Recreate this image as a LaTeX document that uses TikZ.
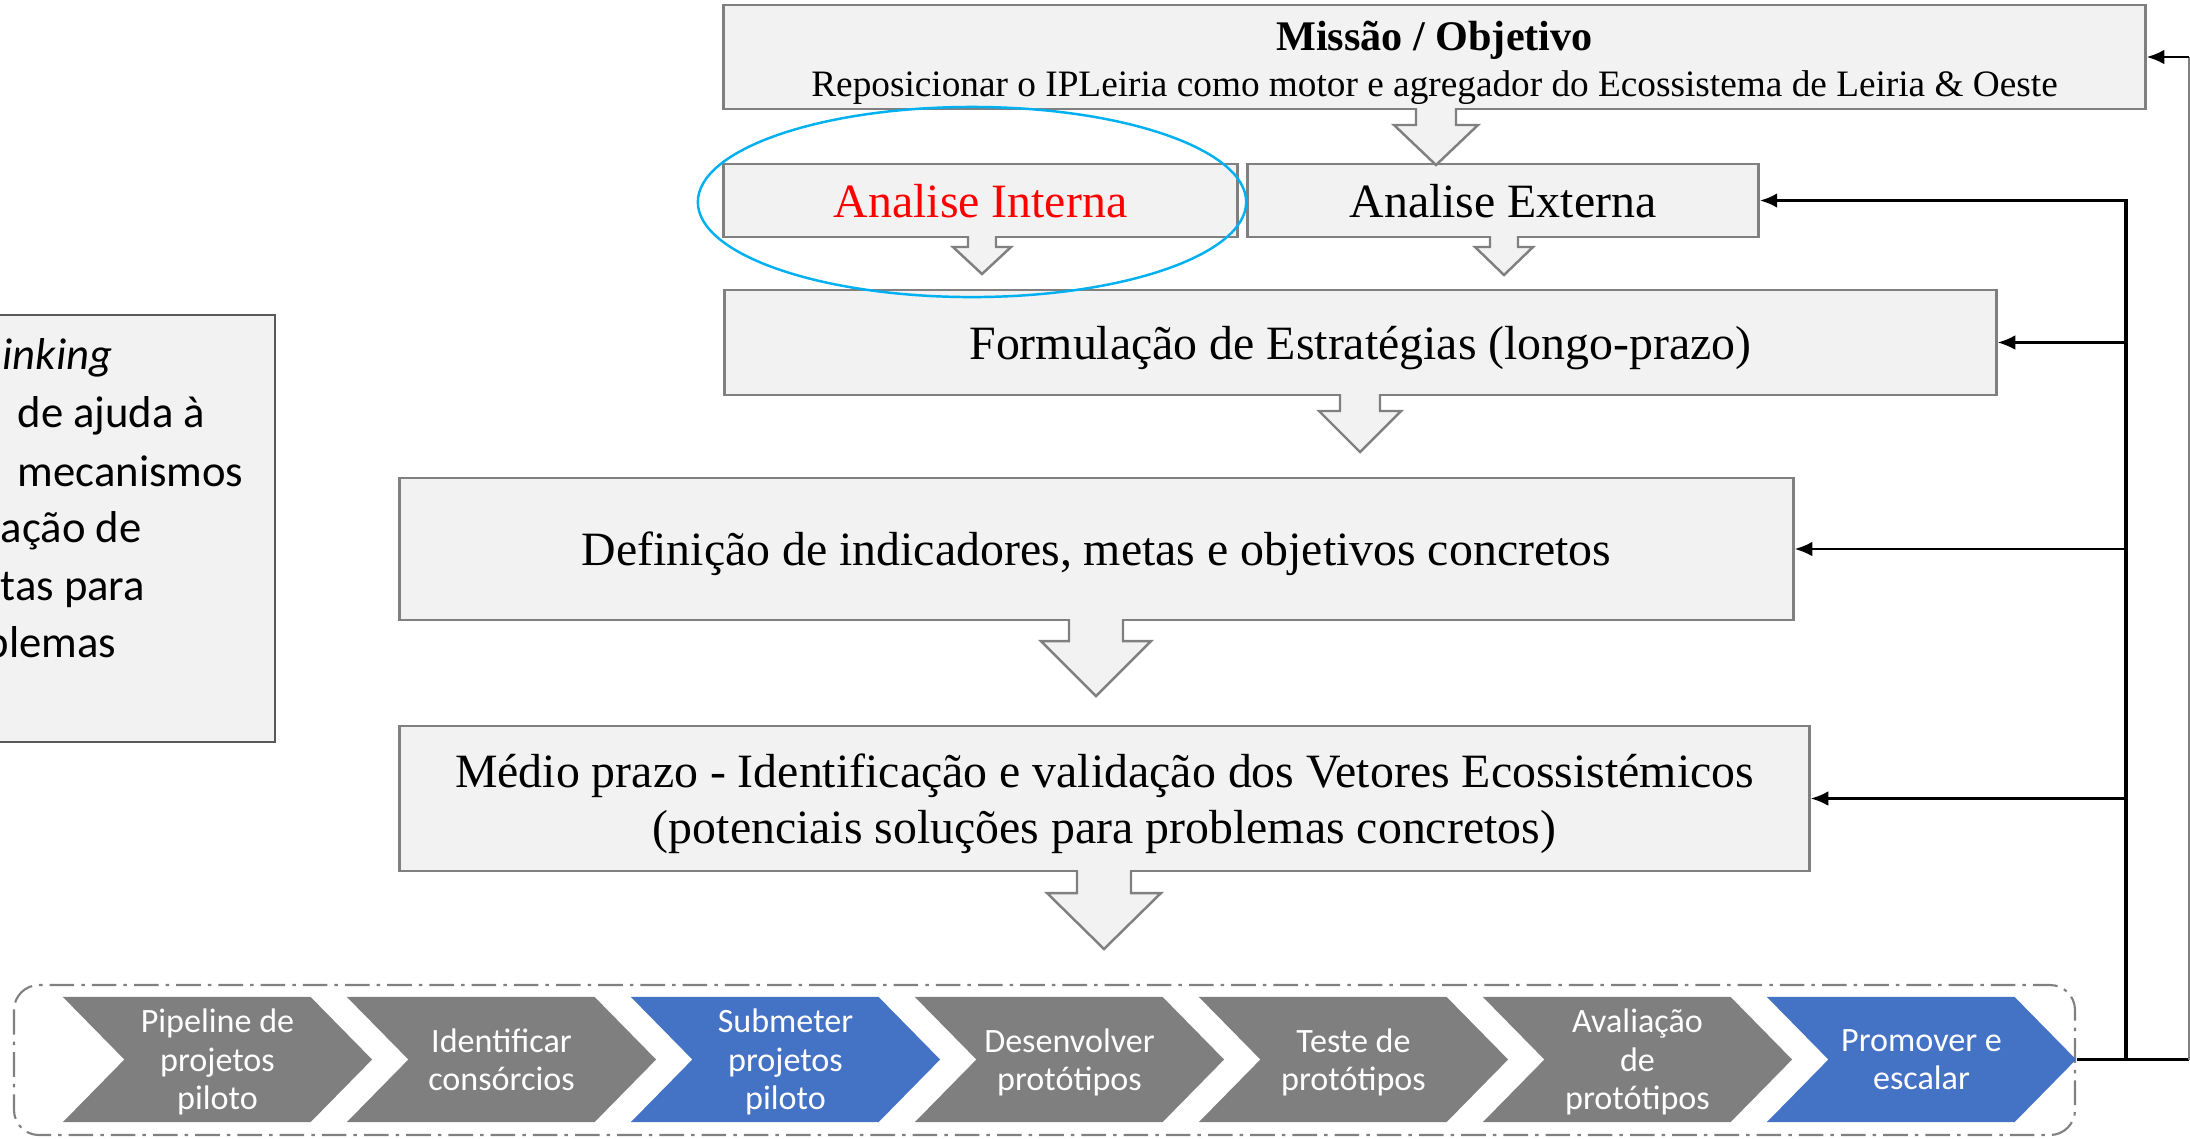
\documentclass[tikz,border=0pt]{standalone}
\usepackage{fontspec}
\setmainfont{Liberation Serif}
\newfontfamily\calibri{Carlito}
\usetikzlibrary{arrows.meta,shapes.symbols}
\definecolor{boxfill}{HTML}{F2F2F2}
\definecolor{boxline}{HTML}{808080}
\definecolor{chevgray}{HTML}{7F7F7F}
\definecolor{chevblue}{HTML}{4472C4}
\definecolor{ringblue}{HTML}{00B0F0}
\tikzset{
  box/.style={draw=boxline, fill=boxfill, line width=0.8pt, inner sep=0pt, align=center, text depth=0pt, font=\fontsize{13.6}{16}\selectfont},
  blockarrow/.style={draw=boxline, fill=boxfill, line width=0.7pt},
  chev/.style={signal, signal from=west, signal to=east, signal pointer angle=91, minimum width=3.09cm, minimum height=1.25cm, inner sep=0pt, text depth=0pt, text=white, align=center, font=\calibri\fontsize{9.7}{10.95}\selectfont},
  busline/.style={line width=1.1pt},
  fbarrow/.style={line width=0.6pt, -{Latex[length=5pt,width=4.2pt]}},
  sidetext/.style={anchor=base west, inner sep=0pt, font=\calibri\fontsize{12.7}{15}\selectfont},
  frame/.style={draw=boxline, line width=0.6pt, rounded corners=0.25cm, dash pattern=on 7pt off 2pt on 1pt off 2pt}
}
\begin{document}
\begin{tikzpicture}[x=0.01cm, y=-0.01cm]
\useasboundingbox (0,0) rectangle (2190,1138);
\clip (0,0) rectangle (2190,1138);
% panel on the left, cut by the page edge
\node[draw=black!65, fill=boxfill, line width=0.5pt, minimum width=3.15cm, minimum height=4.27cm] (thinking) at (117.5,528.5) {};
\node[sidetext, font=\calibri\itshape\fontsize{12.7}{15}\selectfont] (tk1) at (2,369) {inking};
\node[sidetext] (tk2) at (17,427) {de ajuda à};
\node[sidetext] (tk3) at (17,486) {mecanismos};
\node[sidetext] (tk4) at (0,542) {ação de};
\node[sidetext] (tk5) at (0,600) {tas para};
\node[sidetext] (tk6) at (-15,657) {blemas};
% boxes
\node[box, minimum width=14.21cm, minimum height=1.04cm] (missao) at (1434.5,57) {};
\node[anchor=base, inner sep=0pt, font=\fontsize{12}{14}\selectfont\bfseries] (mtitle) at (1434.5,50) {Missão / Objetivo};
\node[anchor=base, inner sep=0pt, font=\fontsize{10.6}{13}\selectfont] (msub) at (1434.5,96) {Reposicionar o IPLeiria como motor e agregador do Ecossistema de Leiria \& Oeste};
\node[box, minimum width=5.13cm, minimum height=0.73cm, text=red] (interna) at (980.5,200.5) {Analise Interna};
\node[box, minimum width=5.10cm, minimum height=0.73cm] (externa) at (1503,200.5) {Analise Externa};
\node[box, minimum width=12.71cm, minimum height=1.05cm] (formul) at (1360.5,342.5) {Formulação de Estratégias (longo-prazo)};
\node[box, minimum width=13.93cm, minimum height=1.42cm] (defin) at (1096.5,549) {Definição de indicadores, metas e objetivos concretos};
\node[box, minimum width=14.09cm, minimum height=1.45cm] (medio) at (1104.5,798.5) {Médio prazo - Identificação e validação dos Vetores Ecossistémicos\\(potenciais soluções para problemas concretos)};
% block arrows
\draw[blockarrow] (1416,108) -- (1416,125) -- (1394,125) -- (1436,165) -- (1478,125) -- (1456,125) -- (1456,108);
\draw[blockarrow] (968,236) -- (968,247) -- (953,247) -- (982,274) -- (1011,247) -- (996,247) -- (996,236);
\draw[blockarrow] (1490,236) -- (1490,247) -- (1475,247) -- (1504,275) -- (1533,247) -- (1518,247) -- (1518,236);
\draw[blockarrow] (1340,394) -- (1340,411) -- (1319,411) -- (1360,452) -- (1401,411) -- (1380,411) -- (1380,394);
\draw[blockarrow] (1069,619) -- (1069,641) -- (1041,641) -- (1096,696) -- (1151,641) -- (1123,641) -- (1123,619);
\draw[blockarrow] (1077,870) -- (1077,893) -- (1047,893) -- (1104,949) -- (1161,893) -- (1131,893) -- (1131,870);
\draw[ringblue, line width=0.7pt] (972,202) ellipse [x radius=2.74cm, y radius=0.95cm];
% pipeline
\draw[frame] (14,985) rectangle (2075,1135);
\node[chev, fill=chevgray] (c1) at (217.5,1059.5) {Pipeline de\\projetos\\piloto};
\node[chev, fill=chevgray] (c2) at (501.5,1059.5) {Identificar\\consórcios};
\node[chev, fill=chevblue] (c3) at (785.5,1059.5) {Submeter\\projetos\\piloto};
\node[chev, fill=chevgray] (c4) at (1069.5,1059.5) {Desenvolver\\protótipos};
\node[chev, fill=chevgray] (c5) at (1353.5,1059.5) {Teste de\\protótipos};
\node[chev, fill=chevgray] (c6) at (1637.5,1059.5) {Avaliação\\de\\protótipos};
\node[chev, fill=chevblue] (c7) at (1921.5,1059.5) {Promover e\\escalar};
% feedback
\coordinate (bustop) at (2126,200.5);
\coordinate (outtop) at (2189,57);
\draw[busline, -{Latex[length=5pt,width=4.2pt]}] (c7.east) -| (bustop) -- (externa.east);
\draw[fbarrow] (bustop |- formul.east) -- (formul.east);
\draw[fbarrow] (bustop |- defin.east) -- (defin.east);
\draw[fbarrow] (bustop |- medio.east) -- (medio.east);
\draw[line width=0.6pt] (c7.east -| bustop) -- (c7.east -| outtop);
\draw[gray, line width=0.5pt] (c7.east -| outtop) -- (outtop);
\draw[fbarrow] (outtop) -- (missao.east);
\end{tikzpicture}
\end{document}
